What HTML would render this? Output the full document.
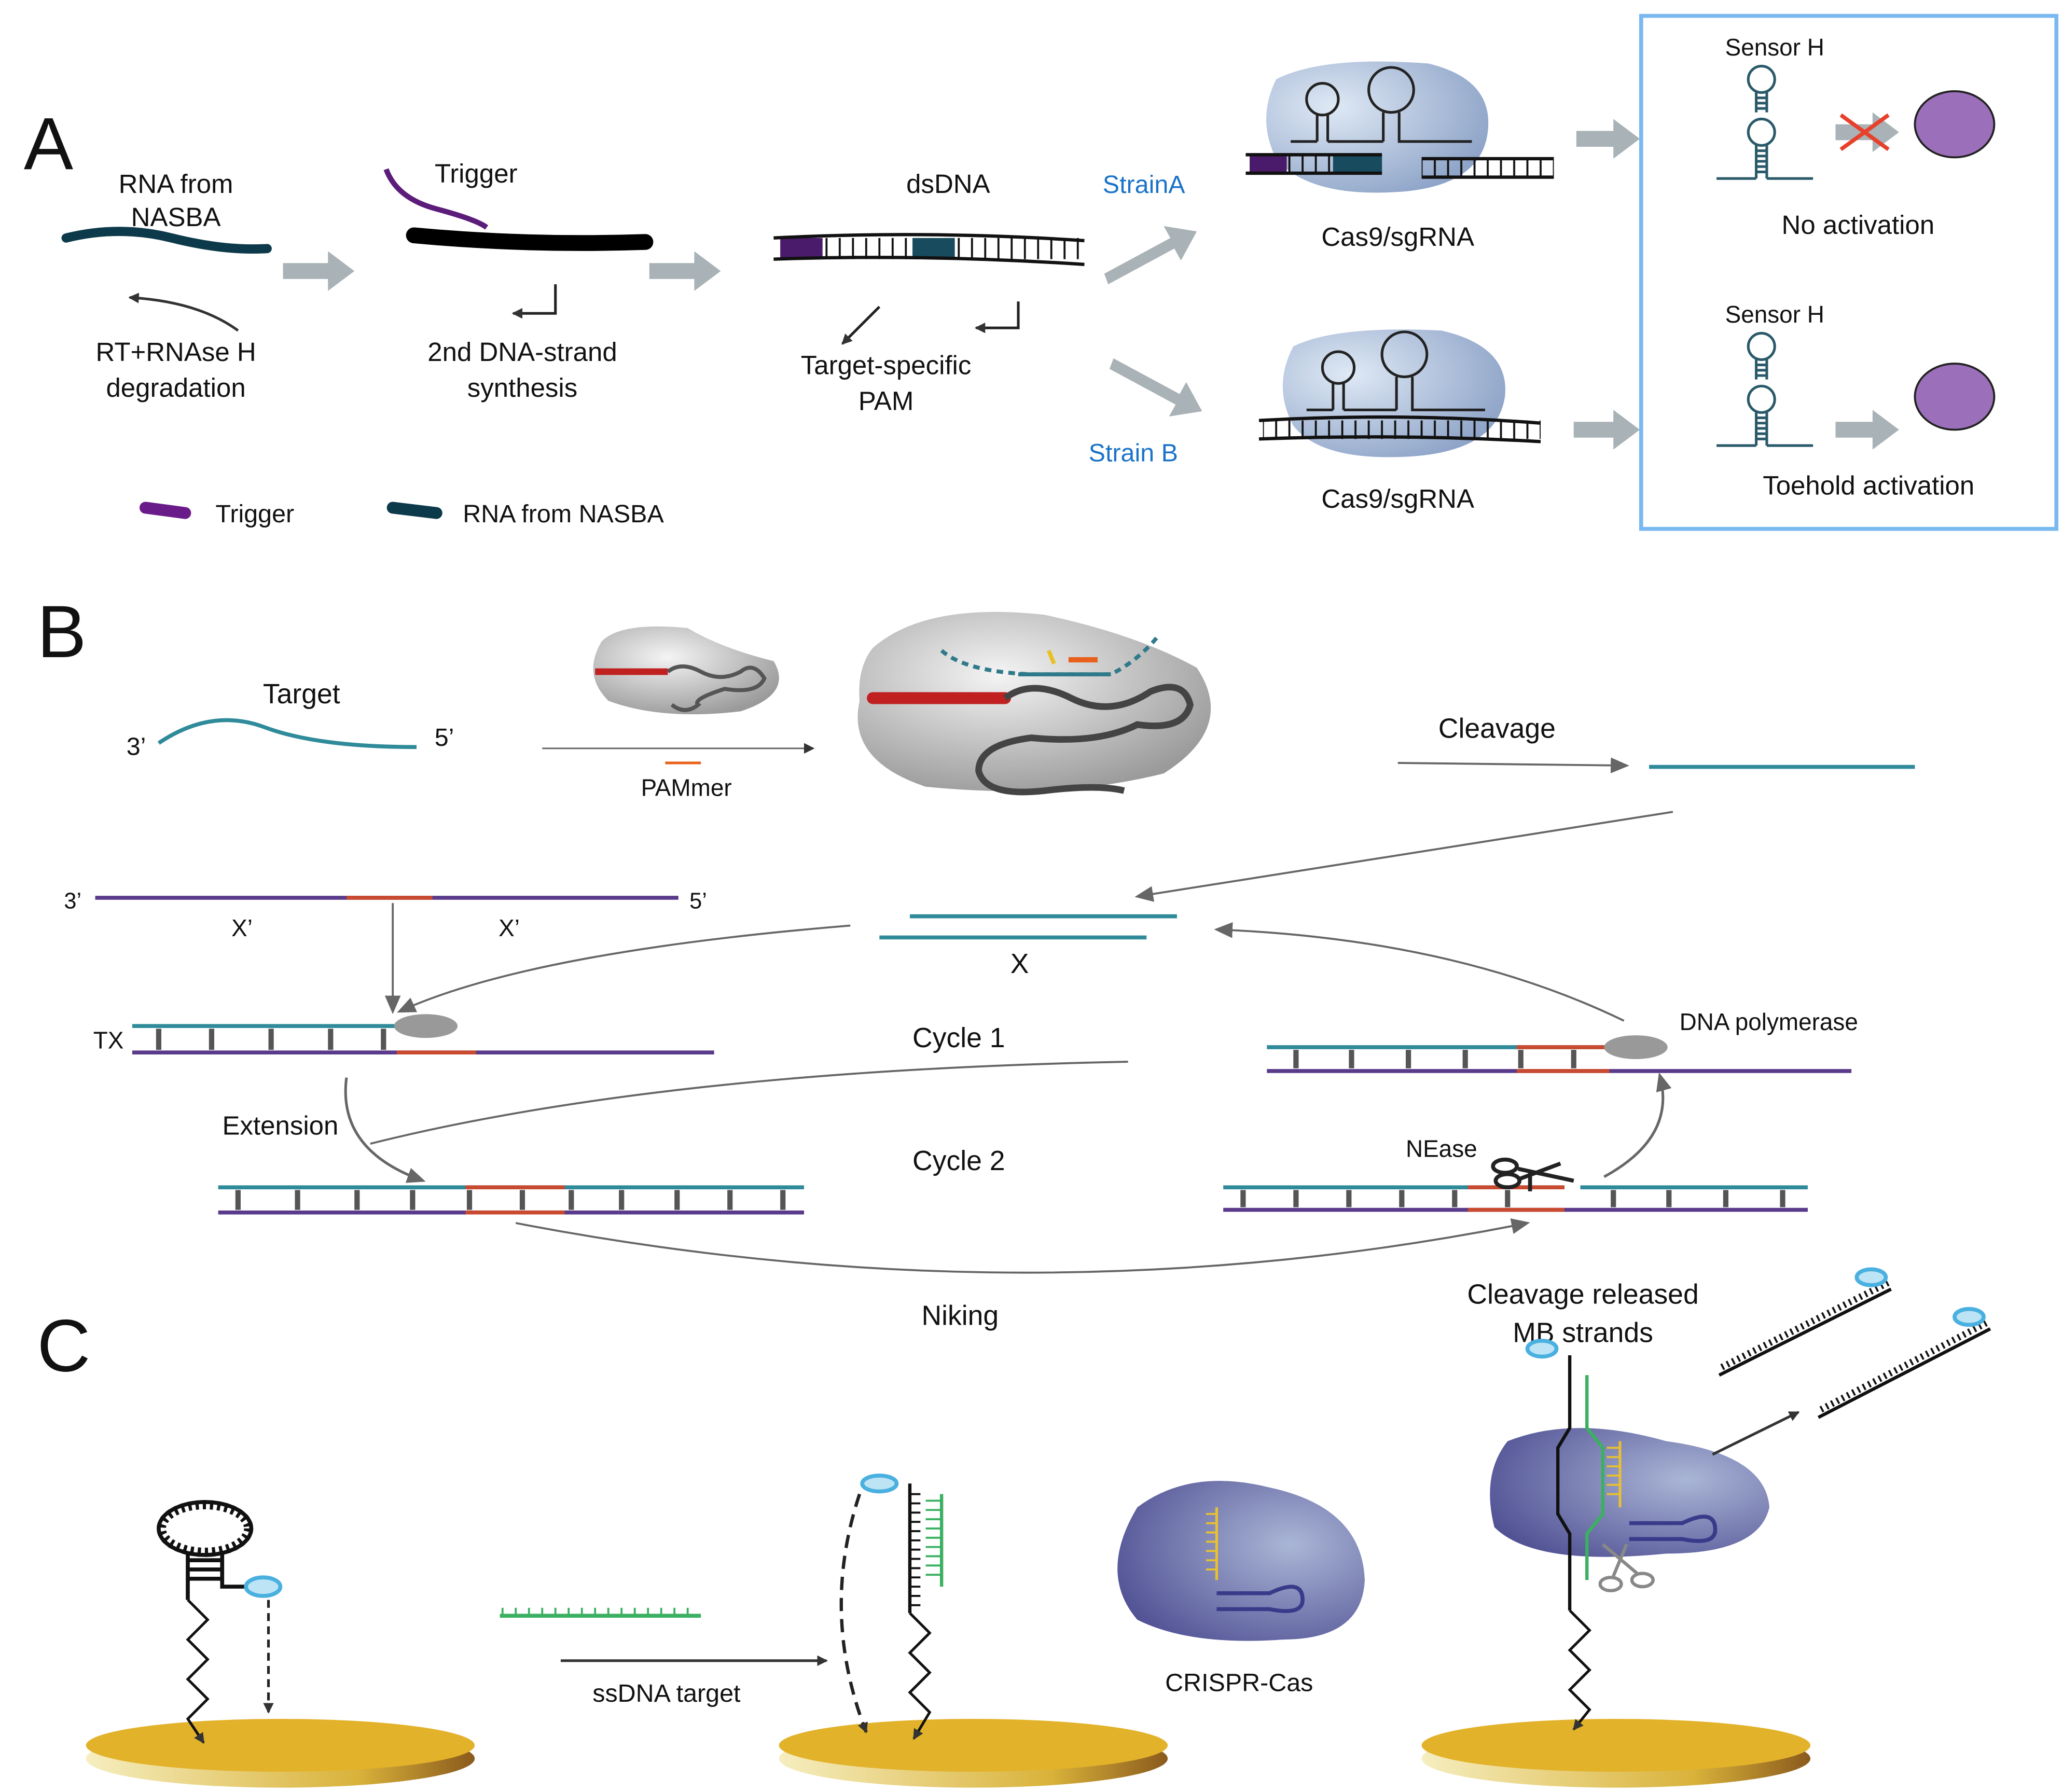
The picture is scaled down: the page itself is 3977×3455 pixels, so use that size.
<!DOCTYPE html>
<html><head><meta charset="utf-8"><style>
html,body{margin:0;padding:0;background:#fff}
svg{display:block}
text{font-family:"Liberation Sans",sans-serif;fill:#111}
</style></head><body>
<svg width="3977" height="3455" viewBox="0 0 1560 1355.3" preserveAspectRatio="none" xmlns="http://www.w3.org/2000/svg">
<defs>
<marker id="ah" markerWidth="8" markerHeight="8" refX="7" refY="4" orient="auto" markerUnits="userSpaceOnUse"><path d="M0,0 L8,4 L0,8 z" fill="#333"/></marker>
<marker id="ahg" markerWidth="14" markerHeight="12" refX="12" refY="6" orient="auto" markerUnits="userSpaceOnUse"><path d="M0,0 L14,6 L0,12 z" fill="#666"/></marker>
<radialGradient id="blu" cx="30%" cy="35%" r="75%"><stop offset="0" stop-color="#dfe9f5"/><stop offset="1" stop-color="#8ea4c8"/></radialGradient>
<radialGradient id="gry" cx="40%" cy="35%" r="70%"><stop offset="0" stop-color="#f4f4f4"/><stop offset="1" stop-color="#9a9a9a"/></radialGradient>
<radialGradient id="pur" cx="70%" cy="40%" r="80%"><stop offset="0" stop-color="#aab6d6"/><stop offset="1" stop-color="#4e4e92"/></radialGradient>
<linearGradient id="gold" x1="0" y1="0" x2="1" y2="0"><stop offset="0" stop-color="#f6eec0"/><stop offset=".7" stop-color="#d9b23a"/><stop offset="1" stop-color="#8a5a1c"/></linearGradient>
<pattern id="lad" width="10" height="20" patternUnits="userSpaceOnUse"><line x1="5" y1="0" x2="5" y2="20" stroke="#111" stroke-width="1.5"/></pattern>
</defs>

<!-- Panel A -->
<text x="18" y="128" font-size="56">A</text>
<text x="133" y="146" font-size="20" text-anchor="middle">RNA from</text>
<text x="133" y="171" font-size="20" text-anchor="middle">NASBA</text>
<path d="M50,180 Q90,170 130,180 T202,188" stroke="#0d3a4a" stroke-width="7" fill="none" stroke-linecap="round"/>
<path d="M180,250 Q150,228 98,225" stroke="#333" stroke-width="2" fill="none" marker-end="url(#ah)"/>
<text x="133" y="273" font-size="20" text-anchor="middle">RT+RNAse H</text>
<text x="133" y="300" font-size="20" text-anchor="middle">degradation</text>

<g fill="#a9b2b6">
<path d="M214,199 h34 v-9 l20,15 l-20,15 v-9 h-34z"/>
<path d="M491,199 h34 v-9 l20,15 l-20,15 v-9 h-34z"/>
<path d="M1192,99 h28 v-9 l20,15 l-20,15 v-9 h-28z"/>
<path d="M1190,319 h30 v-9 l20,15 l-20,15 v-9 h-30z"/>
<path d="M1388,319 h28 v-9 l20,15 l-20,15 v-9 h-28z"/>
<path d="M1388,94 h28 v-9 l20,15 l-20,15 v-9 h-28z"/>
<path d="M835,207 l50,-27 l-5,-9 l25,4 l-12,22 l-5,-9 l-50,27z"/>
<path d="M839,279 l50,27 l-5,9 l25,-4 l-12,-22 l-5,9 l-50,-27z"/>
</g>

<path d="M292,128 Q300,150 330,158 T368,172" stroke="#5c1c7a" stroke-width="4" fill="none"/>
<text x="360" y="138" font-size="20" text-anchor="middle">Trigger</text>
<path d="M313,178 Q400,186 488,183" stroke="#000" stroke-width="12" fill="none" stroke-linecap="round"/>
<path d="M420,215 v22 h-32" stroke="#222" stroke-width="2" fill="none" marker-end="url(#ah)"/>
<text x="395" y="273" font-size="20" text-anchor="middle">2nd DNA-strand</text>
<text x="395" y="300" font-size="20" text-anchor="middle">synthesis</text>

<text x="717" y="146" font-size="20" text-anchor="middle">dsDNA</text>
<rect x="588" y="180" width="230" height="16" fill="url(#lad)"/>
<rect x="590" y="180" width="32" height="16" fill="#4a1b6a"/>
<rect x="690" y="180" width="32" height="16" fill="#184b5e"/>
<path d="M585,180 Q700,174 820,182" stroke="#111" stroke-width="2.5" fill="none"/>
<path d="M585,196 Q700,192 820,200" stroke="#111" stroke-width="2.5" fill="none"/>
<path d="M665,232 L637,260" stroke="#222" stroke-width="2" fill="none" marker-end="url(#ah)"/>
<path d="M770,228 v20 h-32" stroke="#222" stroke-width="2" fill="none" marker-end="url(#ah)"/>
<text x="670" y="283" font-size="20" text-anchor="middle">Target-specific</text>
<text x="670" y="310" font-size="20" text-anchor="middle">PAM</text>
<text x="865" y="146" font-size="19" text-anchor="middle" style="fill:#1a73c8">StrainA</text>
<text x="857" y="349" font-size="19" text-anchor="middle" style="fill:#1a73c8">Strain B</text>

<path d="M965,60 Q1000,42 1080,48 Q1130,60 1125,100 Q1120,140 1060,145 Q990,150 965,120 Q950,90 965,60z" fill="url(#blu)"/>
<g stroke="#222" stroke-width="2" fill="none">
<circle cx="1000" cy="75" r="12"/><path d="M996,87 v20 M1004,87 v20 M996,107 h-20"/>
<circle cx="1052" cy="68" r="17"/><path d="M1046,85 v22 M1058,85 v22 h55 M1004,107 h42"/>
</g>
<rect x="945" y="117" width="100" height="14" fill="url(#lad)"/>
<rect x="945" y="117" width="28" height="14" fill="#4a1b6a"/>
<rect x="1008" y="117" width="37" height="14" fill="#184b5e"/>
<path d="M942,117 h103 M942,131 h103 M1075,120 h100 M1075,134 h100" stroke="#111" stroke-width="2.5"/>
<rect x="1075" y="120" width="100" height="14" fill="url(#lad)"/>
<text x="1057" y="186" font-size="20" text-anchor="middle">Cas9/sgRNA</text>

<path d="M978,262 Q1010,246 1090,250 Q1142,262 1138,300 Q1132,340 1070,345 Q1000,350 978,322 Q962,292 978,262z" fill="url(#blu)"/>
<g stroke="#222" stroke-width="2" fill="none">
<circle cx="1012" cy="278" r="12"/><path d="M1008,290 v20 M1016,290 v20 M1008,310 h-20"/>
<circle cx="1062" cy="268" r="17"/><path d="M1056,285 v25 M1068,285 v25 h55 M1016,310 h40"/>
</g>
<rect x="955" y="318" width="210" height="14" fill="url(#lad)"/>
<path d="M952,318 Q1060,312 1165,320 M952,332 Q1060,328 1165,334" stroke="#111" stroke-width="2.5" fill="none"/>
<text x="1057" y="384" font-size="20" text-anchor="middle">Cas9/sgRNA</text>

<rect x="1241" y="12" width="314" height="388" fill="none" stroke="#7ab8f0" stroke-width="3"/>
<g id="sens">
<text x="1342" y="42" font-size="18" text-anchor="middle">Sensor H</text>
<g stroke="#2a5a6a" stroke-width="2" fill="none">
<circle cx="1332" cy="60" r="10"/>
<path d="M1328,70 v15 M1336,70 v15"/>
<circle cx="1332" cy="100" r="10"/>
<path d="M1328,110 v25 M1336,110 v25 M1328,135 h-30 M1336,135 h35"/>
<path d="M1328,74 h8 M1328,78 h8 M1328,82 h8 M1328,114 h8 M1328,118 h8 M1328,122 h8 M1328,126 h8 M1328,130 h8"/>
</g></g>
<use href="#sens" transform="translate(0,202)"/>
<path d="M1392,87 L1428,113 M1428,87 L1392,113" stroke="#e8402a" stroke-width="3"/>
<ellipse cx="1478" cy="94" rx="30" ry="25" fill="#9b6fba" stroke="#222" stroke-width="1.5"/>
<ellipse cx="1478" cy="300" rx="30" ry="25" fill="#9b6fba" stroke="#222" stroke-width="1.5"/>
<text x="1405" y="177" font-size="20" text-anchor="middle">No activation</text>
<text x="1413" y="374" font-size="20" text-anchor="middle">Toehold activation</text>

<path d="M110,384 l30,4" stroke="#6a1b8a" stroke-width="9" stroke-linecap="round"/>
<text x="163" y="395" font-size="19">Trigger</text>
<path d="M297,384 l33,4" stroke="#0d3a4a" stroke-width="9" stroke-linecap="round"/>
<text x="350" y="395" font-size="19">RNA from NASBA</text>

<!-- Panel B -->
<text x="28" y="497" font-size="56">B</text>
<text x="228" y="532" font-size="21" text-anchor="middle">Target</text>
<text x="103" y="571" font-size="19" text-anchor="middle">3’</text>
<text x="336" y="564" font-size="19" text-anchor="middle">5’</text>
<path d="M120,562 Q160,535 200,550 T315,565" stroke="#2f8a9a" stroke-width="3" fill="none"/>
<path d="M410,566 L615,566" stroke="#666" stroke-width="1.2" marker-end="url(#ah)"/>
<line x1="503" y1="577" x2="530" y2="577" stroke="#e8601a" stroke-width="2"/>
<text x="519" y="602" font-size="18" text-anchor="middle">PAMmer</text>
<path d="M455,485 Q470,470 520,475 Q545,490 585,500 Q600,525 560,538 Q500,545 460,530 Q440,510 455,485z" fill="url(#gry)"/>
<path d="M450,508 h55" stroke="#c02020" stroke-width="5"/>
<path d="M505,508 q10,-8 25,0 q15,8 30,0 q10,-8 18,5 q-5,12 -30,8 q-25,8 -20,12 q-10,8 -20,0" stroke="#555" stroke-width="3" fill="none"/>
<path d="M660,490 Q700,455 790,465 Q860,480 905,505 Q935,550 880,585 Q800,605 700,595 Q640,575 650,530 Q648,505 660,490z" fill="url(#gry)"/>
<path d="M660,528 h100" stroke="#c02020" stroke-width="9" stroke-linecap="round"/>
<path d="M760,528 q20,-15 50,0 q30,15 60,-5 q25,-10 30,10 q-5,20 -40,15 q-30,15 -80,10 q-40,5 -40,25 q5,20 50,15 q40,-5 60,0" stroke="#444" stroke-width="5" fill="none"/>
<path d="M712,492 Q730,508 780,510 L840,510 Q860,500 875,482" stroke="#2f7a8a" stroke-width="3" fill="none" stroke-dasharray="5,4"/>
<path d="M770,510 h70" stroke="#2f7a8a" stroke-width="3"/>
<path d="M808,499 h22" stroke="#e8601a" stroke-width="4"/>
<path d="M793,492 l4,10" stroke="#e8c020" stroke-width="3"/>

<text x="1132" y="558" font-size="21" text-anchor="middle">Cleavage</text>
<path d="M1057,577 L1230,579" stroke="#666" stroke-width="1.5" marker-end="url(#ahg)"/>
<line x1="1247" y1="580" x2="1448" y2="580" stroke="#2f8a9a" stroke-width="3"/>
<path d="M1265,614 L860,678" stroke="#666" stroke-width="1.5" marker-end="url(#ahg)"/>

<text x="55" y="687" font-size="17" text-anchor="middle">3’</text>
<line x1="72" y1="679" x2="513" y2="679" stroke="#5a3a8a" stroke-width="3"/>
<line x1="262" y1="679" x2="327" y2="679" stroke="#c84a30" stroke-width="3"/>
<text x="528" y="687" font-size="17" text-anchor="middle">5’</text>
<text x="183" y="708" font-size="18" text-anchor="middle">X’</text>
<text x="385" y="708" font-size="18" text-anchor="middle">X’</text>
<line x1="688" y1="693" x2="890" y2="693" stroke="#2f8a9a" stroke-width="3"/>
<line x1="665" y1="709" x2="867" y2="709" stroke="#2f8a9a" stroke-width="3"/>
<text x="771" y="736" font-size="21" text-anchor="middle">X</text>
<path d="M297,683 L297,765" stroke="#666" stroke-width="1.5" marker-end="url(#ahg)"/>
<path d="M643,700 Q400,720 302,765" stroke="#666" stroke-width="1.5" fill="none" marker-end="url(#ahg)"/>

<text x="82" y="793" font-size="18" text-anchor="middle">TX</text>
<line x1="100" y1="776" x2="300" y2="776" stroke="#2f8a9a" stroke-width="3"/>
<line x1="100" y1="796" x2="540" y2="796" stroke="#5a3a8a" stroke-width="3"/>
<line x1="300" y1="796" x2="360" y2="796" stroke="#c84a30" stroke-width="3"/>
<g stroke="#555" stroke-width="4"><path d="M120,778v16M160,778v16M205,778v16M250,778v16M290,778v16"/></g>
<ellipse cx="322" cy="776" rx="24" ry="9" fill="#999"/>
<text x="725" y="792" font-size="21" text-anchor="middle">Cycle 1</text>
<path d="M853,803 Q500,810 280,865" stroke="#666" stroke-width="1.5" fill="none"/>
<text x="212" y="858" font-size="20" text-anchor="middle">Extension</text>
<path d="M262,815 Q255,870 320,893" stroke="#666" stroke-width="2" fill="none" marker-end="url(#ahg)"/>
<text x="725" y="885" font-size="21" text-anchor="middle">Cycle 2</text>

<line x1="165" y1="898" x2="608" y2="898" stroke="#2f8a9a" stroke-width="3"/>
<line x1="165" y1="917" x2="608" y2="917" stroke="#5a3a8a" stroke-width="3"/>
<line x1="352" y1="898" x2="427" y2="898" stroke="#c84a30" stroke-width="3"/>
<line x1="352" y1="917" x2="427" y2="917" stroke="#c84a30" stroke-width="3"/>
<g stroke="#555" stroke-width="4"><path d="M180,900v15M225,900v15M270,900v15M312,900v15M355,900v15M395,900v15M432,900v15M470,900v15M512,900v15M552,900v15M592,900v15"/></g>

<line x1="958" y1="792" x2="1215" y2="792" stroke="#2f8a9a" stroke-width="3"/>
<line x1="958" y1="810" x2="1400" y2="810" stroke="#5a3a8a" stroke-width="3"/>
<line x1="1147" y1="792" x2="1217" y2="792" stroke="#c84a30" stroke-width="3"/>
<line x1="1147" y1="810" x2="1217" y2="810" stroke="#c84a30" stroke-width="3"/>
<g stroke="#555" stroke-width="4"><path d="M980,794v14M1022,794v14M1065,794v14M1108,794v14M1150,794v14M1190,794v14"/></g>
<ellipse cx="1237" cy="792" rx="24" ry="9" fill="#999"/>
<text x="1270" y="779" font-size="18">DNA polymerase</text>
<path d="M1228,772 Q1100,710 920,703" stroke="#666" stroke-width="1.5" fill="none" marker-end="url(#ahg)"/>

<line x1="925" y1="898" x2="1183" y2="898" stroke="#2f8a9a" stroke-width="3"/>
<line x1="1195" y1="898" x2="1367" y2="898" stroke="#2f8a9a" stroke-width="3"/>
<line x1="925" y1="915" x2="1367" y2="915" stroke="#5a3a8a" stroke-width="3"/>
<line x1="1110" y1="898" x2="1183" y2="898" stroke="#c84a30" stroke-width="3"/>
<line x1="1110" y1="915" x2="1183" y2="915" stroke="#c84a30" stroke-width="3"/>
<g stroke="#555" stroke-width="4"><path d="M940,900v13M980,900v13M1020,900v13M1060,900v13M1100,900v13M1140,900v13M1220,900v13M1262,900v13M1305,900v13M1348,900v13"/></g>
<text x="1090" y="875" font-size="18" text-anchor="middle">NEase</text>
<g stroke="#222" stroke-width="3" fill="none"><ellipse cx="1138" cy="882" rx="9" ry="5"/><ellipse cx="1140" cy="893" rx="9" ry="5"/><path d="M1148,884 L1190,893 M1148,892 L1180,880 M1157,886 v15"/></g>
<path d="M1213,890 Q1268,860 1255,813" stroke="#666" stroke-width="2" fill="none" marker-end="url(#ahg)"/>
<path d="M390,925 Q780,1000 1155,925" stroke="#666" stroke-width="1.5" fill="none" marker-end="url(#ahg)"/>
<text x="726" y="1002" font-size="21" text-anchor="middle">Niking</text>

<!-- Panel C -->
<text x="28" y="1037" font-size="56">C</text>
<g id="disc"><ellipse cx="212" cy="1330" rx="147" ry="22" fill="url(#gold)"/><ellipse cx="212" cy="1320" rx="147" ry="20" fill="#e2b22a"/></g>
<use href="#disc" transform="translate(524,0)"/>
<use href="#disc" transform="translate(1010,0)"/>

<!-- left MB -->
<ellipse cx="155" cy="1156" rx="33" ry="18" fill="none" stroke="#111" stroke-width="7" stroke-dasharray="2.5,3"/>
<ellipse cx="155" cy="1156" rx="35" ry="20" fill="none" stroke="#111" stroke-width="3"/>
<path d="M142,1174 v36 M168,1174 v26 h18 M142,1180 h26 M142,1187 h26 M142,1194 h26" stroke="#111" stroke-width="3" fill="none"/>
<ellipse cx="199" cy="1200" rx="13" ry="7" fill="#bde4f4" stroke="#4ab0e0" stroke-width="3"/>
<path d="M203,1210 V1295" stroke="#222" stroke-width="2" stroke-dasharray="6,4" marker-end="url(#ah)"/>
<path d="M142,1210 l15,15 l-15,15 l15,15 l-15,15 l15,15 l-15,15 l12,18" stroke="#111" stroke-width="2" fill="none" marker-end="url(#ah)"/>

<line x1="378" y1="1222" x2="530" y2="1222" stroke="#3ab060" stroke-width="3"/>
<path d="M380,1222 v-6 M390,1222 v-6 M400,1222 v-6 M410,1222 v-6 M420,1222 v-6 M430,1222 v-6 M440,1222 v-6 M450,1222 v-6 M460,1222 v-6 M470,1222 v-6 M480,1222 v-6 M490,1222 v-6 M500,1222 v-6 M510,1222 v-6 M520,1222 v-6" stroke="#3ab060" stroke-width="1.5"/>
<path d="M424,1256 L625,1256" stroke="#333" stroke-width="2" marker-end="url(#ah)"/>
<text x="504" y="1287" font-size="19" text-anchor="middle">ssDNA target</text>

<ellipse cx="665" cy="1122" rx="13" ry="6" fill="#bde4f4" stroke="#4ab0e0" stroke-width="3"/>
<path d="M650,1130 Q620,1220 655,1310" stroke="#222" stroke-width="2.5" fill="none" stroke-dasharray="10,6" marker-end="url(#ah)"/>
<path d="M688,1122 V1220" stroke="#111" stroke-width="2.5"/>
<path d="M688,1130 h8 M688,1137 h8 M688,1144 h8 M688,1151 h8 M688,1158 h8 M688,1165 h8 M688,1172 h8 M688,1179 h8 M688,1186 h8 M688,1193 h8 M688,1200 h8 M688,1207 h8 M688,1214 h8" stroke="#111" stroke-width="1.5"/>
<path d="M712,1130 V1200" stroke="#3ab060" stroke-width="2.5"/>
<path d="M700,1135 h12 M700,1142 h12 M700,1149 h12 M700,1156 h12 M700,1163 h12 M700,1170 h12 M700,1177 h12 M700,1184 h12 M700,1191 h12" stroke="#3ab060" stroke-width="1.5"/>
<path d="M688,1220 l15,15 l-15,15 l15,15 l-15,15 l15,15 l-12,20" stroke="#111" stroke-width="2" fill="none" marker-end="url(#ah)"/>

<path d="M860,1140 Q900,1110 960,1125 Q1030,1140 1032,1195 Q1030,1240 970,1240 Q900,1245 860,1225 Q830,1190 860,1140z" fill="url(#pur)"/>
<path d="M920,1140 V1195" stroke="#e8c030" stroke-width="2"/>
<path d="M912,1145 h8 M912,1152 h8 M912,1159 h8 M912,1166 h8 M912,1173 h8 M912,1180 h8 M912,1187 h8" stroke="#e8c030" stroke-width="1.5"/>
<path d="M920,1205 h40 q25,-12 25,5 q0,12 -25,7 h-40" stroke="#3a3a8a" stroke-width="3" fill="none"/>
<text x="937" y="1279" font-size="19" text-anchor="middle">CRISPR-Cas</text>

<text x="1197" y="986" font-size="21" text-anchor="middle">Cleavage released</text>
<text x="1197" y="1015" font-size="21" text-anchor="middle">MB strands</text>
<path d="M1140,1090 Q1190,1070 1260,1090 Q1335,1100 1338,1140 Q1330,1175 1260,1175 Q1160,1185 1130,1155 Q1120,1115 1140,1090z" fill="url(#pur)"/>
<ellipse cx="1166" cy="1020" rx="11" ry="6" fill="#bde4f4" stroke="#4ab0e0" stroke-width="3"/>
<path d="M1187,1025 V1080 L1178,1095 V1145 L1187,1160 V1218" stroke="#111" stroke-width="2.5" fill="none"/>
<path d="M1200,1040 V1080 L1212,1095 V1145 L1200,1160 V1195" stroke="#3ab060" stroke-width="2.5" fill="none"/>
<path d="M1225,1090 V1140" stroke="#e8c030" stroke-width="2"/>
<path d="M1215,1095 h10 M1215,1102 h10 M1215,1109 h10 M1215,1116 h10 M1215,1123 h10 M1215,1130 h10" stroke="#e8c030" stroke-width="1.5"/>
<path d="M1232,1152 h40 q25,-12 25,5 q0,12 -25,7 h-40" stroke="#3a3a8a" stroke-width="3" fill="none"/>
<g stroke="#888" stroke-width="2.5" fill="none"><ellipse cx="1218" cy="1198" rx="8" ry="5"/><ellipse cx="1242" cy="1195" rx="8" ry="5"/><path d="M1212,1168 L1238,1190 M1230,1168 L1220,1192"/></g>
<path d="M1187,1218 l15,15 l-15,15 l15,15 l-15,15 l15,15 l-12,15" stroke="#111" stroke-width="2" fill="none" marker-end="url(#ah)"/>
<path d="M1295,1100 L1360,1068" stroke="#333" stroke-width="2" marker-end="url(#ah)"/>
<g stroke="#111" stroke-width="2.5">
<path d="M1300,1040 L1430,975"/><path d="M1375,1072 L1505,1005"/>
</g>
<g stroke="#111" stroke-dasharray="1.5,3">
<path d="M1302,1034 L1428,970" stroke-width="5"/><path d="M1377,1066 L1503,1000" stroke-width="5"/>
</g>
<ellipse cx="1415" cy="966" rx="11" ry="6" fill="#bde4f4" stroke="#4ab0e0" stroke-width="3"/>
<ellipse cx="1489" cy="996" rx="11" ry="6" fill="#bde4f4" stroke="#4ab0e0" stroke-width="3"/>
</svg>
</body></html>
